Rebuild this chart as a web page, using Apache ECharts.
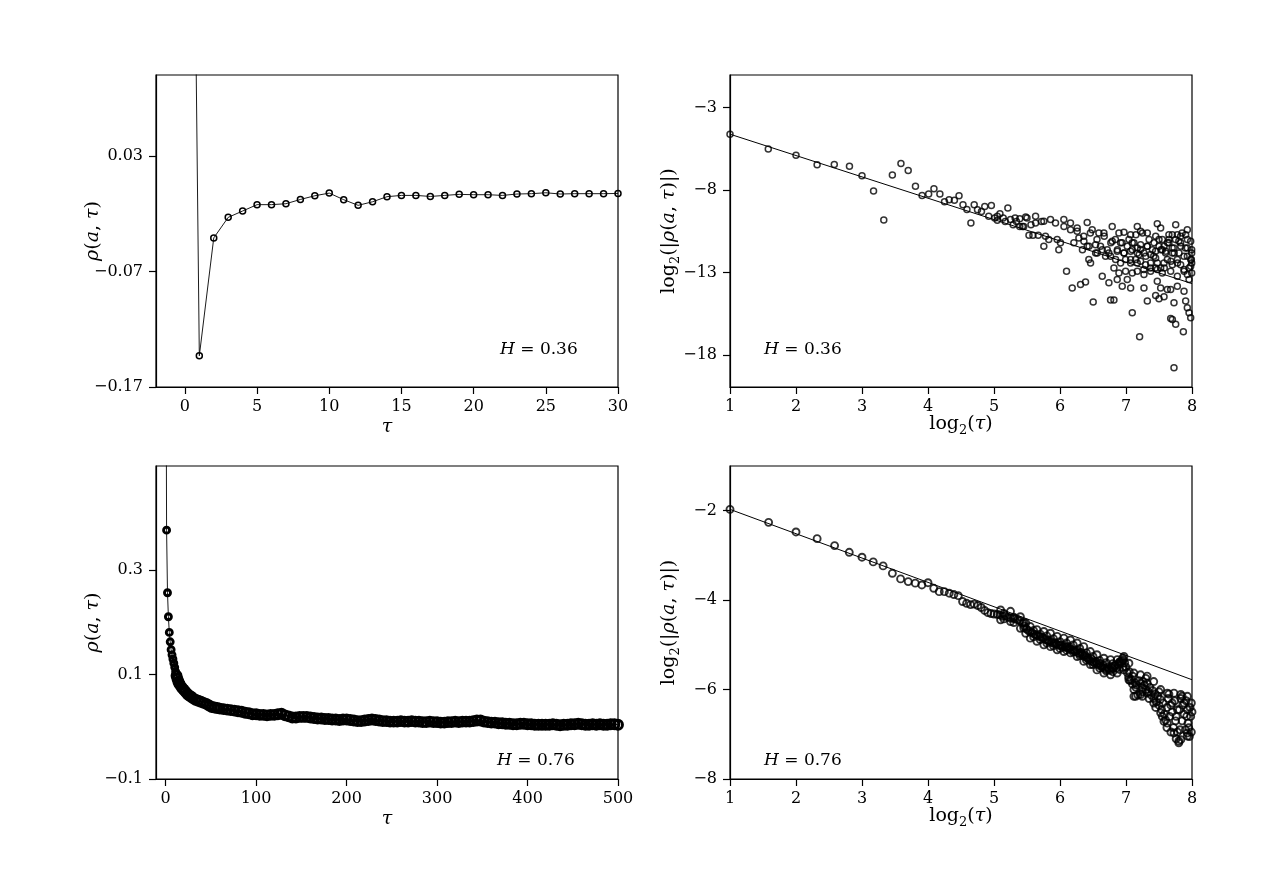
<!DOCTYPE html>
<html>
<head>
<meta charset="UTF-8">
<title>Autocorrelation of fGn</title>
<script src="https://cdn.jsdelivr.net/npm/echarts@6/dist/echarts.min.js"></script>
<style>
html, body { margin: 0; padding: 0; background: #fff; }
#chart { width: 1265px; height: 876px; }
</style>
</head>
<body>
<div id="chart"></div>
<script>
// top-left: rho(a, tau) for H = 0.36
const tlTau = [0, 1, 2, 3, 4, 5, 6, 7, 8, 9, 10, 11, 12, 13, 14, 15, 16, 17, 18, 19, 20, 21, 22, 23, 24, 25, 26, 27, 28, 29, 30];
const tlRho = [1.0, -0.143, -0.041, -0.0232, -0.0177, -0.0122, -0.0122, -0.0114, -0.0077, -0.0045, -0.0022,
  -0.0079, -0.0128, -0.0097, -0.0053, -0.0042, -0.0042, -0.0051, -0.0042, -0.0033, -0.0036,
  -0.0036, -0.0042, -0.0030, -0.0027, -0.0019, -0.0030, -0.0027, -0.0027, -0.0027, -0.0025];

const trLogTau = [1.0, 1.58, 2.0, 2.32, 2.58, 2.81, 3.0, 3.175, 3.33, 3.46, 3.59, 3.70, 3.81, 3.91, 4.01, 4.09, 4.18, 4.25, 4.32, 4.40,
  4.47, 4.53, 4.59, 4.65, 4.70, 4.75, 4.81, 4.86, 4.92, 4.96, 5.01, 5.05, 5.09, 5.14, 5.21, 5.25, 5.29, 5.34, 5.39, 5.43,
  5.48, 5.53, 5.56, 5.59, 5.63, 5.67, 5.72, 5.05, 5.17, 5.32, 5.45, 5.50, 5.39, 5.63,
  5.755, 5.856, 5.932, 6.058, 6.159, 6.260, 6.412, 6.488, 6.589, 6.665, 6.791, 6.893, 6.969, 7.070, 7.171, 7.221, 7.323, 7.474, 7.525, 7.651, 7.753, 7.828, 7.904,
  5.780, 5.830, 5.957, 6.007, 5.755, 5.982, 6.210, 6.286, 6.362, 6.412, 6.539, 6.614, 6.716, 6.791, 6.918, 7.019, 7.095, 7.171, 7.221, 7.323, 7.424, 7.500, 7.576, 7.651, 7.727, 7.828, 7.929, 7.995,
  6.437, 6.463, 6.564, 6.690, 6.766, 6.842, 6.918, 6.994, 7.070, 7.146, 7.221, 7.297, 7.373, 7.449, 7.525, 7.576, 7.626, 7.702, 7.778, 7.879, 7.955,
  6.817, 6.893, 6.994, 7.095, 7.171, 7.272, 7.373, 7.474, 7.550, 7.778, 7.929,
  6.099, 6.640, 6.185, 6.311, 6.387, 6.741, 6.867, 6.943, 7.019, 7.070, 7.272, 7.474, 7.525, 7.626, 7.677, 7.778, 7.879, 7.449,
  6.503, 6.766, 6.817, 7.095, 7.323, 7.500, 7.576, 7.727, 7.904, 7.929, 7.955, 7.980, 7.677, 7.702, 7.753, 7.869, 7.206, 7.727,
  7.601, 7.702, 7.803, 7.879, 7.980, 7.677, 7.828, 7.980, 7.995, 7.929, 7.778, 7.702, 7.550, 7.449, 7.373, 7.449, 7.272, 7.171, 7.070, 6.969, 6.867, 7.955, 7.995,
  7.12, 7.22, 7.32, 7.42, 7.53, 7.63, 7.73, 7.83, 7.93, 7.98, 7.88, 7.78, 7.68, 7.58, 7.475, 7.37, 7.27, 7.17, 7.07, 6.97,
  6.87, 6.77, 6.67, 6.56, 6.46, 6.36, 6.26, 6.16, 6.06, 7.93, 7.85, 7.75, 7.65, 7.55, 7.45, 7.35, 7.25, 7.15, 7.045, 6.94,
  6.84, 6.74, 6.64, 6.54, 6.44, 6.34, 7.995, 7.99, 7.90, 7.80, 7.70, 7.60, 7.50, 7.40, 7.30, 7.20, 7.095];
const trLogRho = [-4.61, -5.5, -5.88, -6.47, -6.45, -6.55, -7.13, -8.06, -9.81, -7.09, -6.39, -6.81, -7.76, -8.32, -8.24, -7.92, -8.24, -8.71, -8.58, -8.62,
  -8.34, -8.89, -9.17, -10.0, -8.89, -9.19, -9.29, -8.99, -9.59, -8.93, -9.69, -9.83, -9.43, -9.69, -9.09, -9.79, -10.1, -9.9, -9.73, -10.2,
  -9.63, -10.74, -10.1, -10.74, -9.59, -10.74, -9.9, -9.59, -9.9, -9.69, -10.2, -9.69, -10.2, -10.0,
  -9.89, -9.79, -9.99, -9.79, -9.99, -10.30, -9.96, -10.40, -10.60, -10.60, -10.20, -10.60, -10.56, -10.70, -10.20, -10.50, -10.60, -10.04, -10.30, -11.00, -10.10, -10.80, -10.70,
  -10.80, -11.00, -11.00, -11.20, -11.41, -11.61, -11.20, -10.90, -11.10, -11.41, -11.31, -11.41, -11.61, -11.10, -11.20, -11.41, -11.20, -11.51, -11.31, -11.41, -11.20, -11.00, -11.41, -11.20, -11.51, -11.20, -11.51, -11.81,
  -12.21, -12.42, -11.81, -12.01, -12.01, -12.21, -12.42, -12.21, -12.42, -12.21, -12.31, -12.52, -12.42, -12.72, -12.72, -12.42, -12.21, -12.52, -12.21, -12.82, -12.72,
  -12.72, -13.02, -12.92, -13.02, -12.92, -13.12, -12.92, -12.82, -13.02, -13.22, -13.12,
  -12.92, -13.22, -13.93, -13.73, -13.58, -13.62, -13.42, -13.83, -13.42, -13.93, -13.93, -13.52, -13.93, -14.03, -14.03, -13.83, -14.13, -14.39,
  -14.79, -14.67, -14.67, -15.44, -14.73, -14.59, -14.47, -14.83, -14.73, -15.14, -15.44, -15.74, -15.78, -15.84, -16.14, -16.59, -16.89, -18.77,
  -11.71, -11.81, -11.81, -12.01, -12.21, -12.92, -12.52, -11.10, -12.42, -10.40, -10.70, -10.70, -11.61, -11.71, -11.91, -12.11, -11.81, -11.81, -11.71, -11.81, -11.71, -13.42, -13.02,
  -11.2, -11.6, -11.41, -12.01, -11.61, -11.2, -11.81, -11.41, -12.01, -12.62, -12.92, -12.42, -12.31, -12.72, -12.42, -12.72, -12.82, -12.42, -12.21, -11.81,
  -11.61, -11.2, -10.8, -11.0, -10.6, -10.8, -10.5, -10.4, -10.2, -11.0, -10.6, -11.0, -10.7, -11.0, -10.8, -11.0, -10.6, -10.7, -11.0, -11.2,
  -11.0, -11.81, -11.61, -11.81, -11.41, -11.61, -11.61, -12.21, -11.51, -11.1, -11.51, -11.81, -11.41, -11.61, -12.01, -11.91, -11.61];
const trFitX = [1, 8];
const trFitY = [-4.61, -13.67];

// bottom-left: rho(a, tau) for H = 0.76
const blTau = [0, 1, 2, 3, 4, 5, 6, 7, 8, 9, 10, 11, 12, 13, 14, 15, 16, 18, 20, 22, 24, 26, 28, 30, 33, 36, 39, 42, 45, 48,
  51, 54, 57, 60, 64, 68, 72, 76, 80, 84, 88, 92, 96, 100, 104, 108, 112, 116, 120, 124, 128, 132, 136, 140, 144, 148,
  152, 156, 160, 164, 168, 172, 176, 180, 184, 188, 192, 196, 200, 204, 208, 212, 216, 220, 224, 228, 232, 236, 240,
  244, 248, 252, 256, 260, 264, 268, 272, 276, 280, 284, 288, 292, 296, 300, 304, 308, 312, 316, 320, 324, 328, 332,
  336, 340, 344, 348, 352, 356, 360, 364, 368, 372, 376, 380, 384, 388, 392, 396, 400, 404, 408, 412, 416, 420, 424,
  428, 432, 436, 440, 444, 448, 452, 456, 460, 464, 468, 472, 476, 480, 484, 488, 492, 496, 500];
const blRho = [1.0, 0.377, 0.257, 0.211, 0.181, 0.163, 0.148, 0.138, 0.130, 0.122, 0.114, 0.106, 0.098, 0.092, 0.087, 0.083, 0.080,
  0.075, 0.071, 0.067, 0.063, 0.060, 0.058, 0.055, 0.052, 0.050, 0.048, 0.046, 0.044, 0.041,
  0.038, 0.037, 0.036, 0.035, 0.034, 0.033, 0.032, 0.031, 0.030, 0.029, 0.027, 0.026, 0.024, 0.024, 0.023, 0.023, 0.022,
  0.023, 0.023, 0.024, 0.025, 0.022, 0.020, 0.018, 0.018, 0.019, 0.019, 0.019, 0.018, 0.017, 0.016, 0.016, 0.015,
  0.015, 0.014, 0.014, 0.013, 0.014, 0.014, 0.013, 0.012, 0.011, 0.011, 0.012, 0.013, 0.014, 0.013, 0.012, 0.011,
  0.011, 0.010, 0.010, 0.010, 0.011, 0.010, 0.010, 0.011, 0.010, 0.010, 0.009, 0.009, 0.010, 0.009, 0.009, 0.008,
  0.008, 0.009, 0.009, 0.010, 0.009, 0.010, 0.010, 0.010, 0.011, 0.012, 0.012, 0.010, 0.009, 0.008, 0.008, 0.007,
  0.007, 0.006, 0.006, 0.005, 0.005, 0.006, 0.006, 0.005, 0.005, 0.004, 0.004, 0.004, 0.004, 0.004, 0.005, 0.004,
  0.003, 0.004, 0.004, 0.005, 0.005, 0.006, 0.005, 0.004, 0.004, 0.005, 0.004, 0.005, 0.004, 0.004, 0.005, 0.005, 0.004];

// bottom-right: log2 rho against log2(tau), H = 0.76 (centre of band, its edges, then in-band points)
const brLogTau = [1.0, 1.585, 2.0, 2.32, 2.585, 2.807, 3.0, 3.17, 3.32, 3.46, 3.585, 3.70, 3.807, 3.907, 4.0, 4.087, 4.17, 4.248,
  4.322, 4.392, 4.459, 4.524, 4.585, 4.644, 4.70, 4.755, 4.807, 4.858, 4.907, 4.954, 5.0,
  5.05, 5.09, 5.13, 5.17, 5.21, 5.25, 5.29, 5.32, 5.36, 5.39, 5.43, 5.46, 5.49, 5.52, 5.55, 5.58, 5.61, 5.64, 5.67, 5.70,
  5.73, 5.75, 5.78, 5.81, 5.83, 5.86, 5.88, 5.91, 5.93, 5.95, 5.98, 6.0, 6.02, 6.04, 6.07, 6.09, 6.11, 6.13, 6.15, 6.17,
  6.2, 6.22, 6.24, 6.26, 6.28, 6.30, 6.32, 6.34, 6.36, 6.38, 6.40, 6.42, 6.44, 6.46, 6.48, 6.50, 6.52, 6.54, 6.56, 6.58,
  6.60, 6.62, 6.64, 6.66, 6.68, 6.70, 6.72, 6.74, 6.76, 6.78, 6.80, 6.82, 6.84, 6.86, 6.88, 6.90, 6.92, 6.94, 6.96, 6.98,
  7.0, 7.02, 7.04, 7.06, 7.08, 7.10, 7.12, 7.14, 7.16, 7.18, 7.20, 7.22, 7.24, 7.26, 7.28, 7.30, 7.32, 7.34, 7.36, 7.38,
  7.40, 7.42, 7.44, 7.46, 7.48, 7.50, 7.52, 7.54, 7.56, 7.58, 7.60, 7.62, 7.64, 7.66, 7.68, 7.70, 7.72, 7.74, 7.76, 7.78,
  7.80, 7.81, 7.83, 7.85, 7.86, 7.88, 7.90, 7.91, 7.93, 7.94, 7.96, 7.97, 7.98, 8.0,
  5.10, 5.25, 5.40, 5.48, 5.55, 5.65, 5.755, 5.856, 5.957, 6.058, 6.159, 6.26, 6.36, 6.46, 6.56, 6.665, 6.766, 6.867, 6.969,
  7.044, 7.12, 7.22, 7.32, 7.42, 7.525, 7.626, 7.727, 7.83, 7.93,
  5.10, 5.25, 5.40, 5.48, 5.55, 5.65, 5.755, 5.856, 5.957, 6.058, 6.159, 6.26, 6.36, 6.46, 6.56, 6.665, 6.766, 6.867, 6.969,
  7.044, 7.12, 7.22, 7.32, 7.42, 7.525, 7.626, 7.727, 7.83, 7.93,
  7.146, 7.247, 7.575, 7.80, 7.93,
  5.15, 5.30, 5.45, 5.60, 5.70, 5.80, 5.90, 6.0, 6.10, 6.20, 6.30, 6.40, 6.50, 6.60, 6.70, 6.80, 6.90, 6.95,
  5.15, 5.30, 5.45, 5.60, 5.70, 5.80, 5.90, 6.0, 6.10, 6.20, 6.30, 6.40, 6.50, 6.60, 6.70, 6.80, 6.90, 6.95,
  7.05, 7.10, 7.15, 7.25, 7.30, 7.35, 7.45, 7.50, 7.55, 7.62, 7.65, 7.70, 7.75, 7.78, 7.82, 7.85, 7.88, 7.92, 7.95, 7.99, 7.99, 7.76, 7.68];
const brLogRho = [-1.97, -2.26, -2.475, -2.625, -2.78, -2.93, -3.04, -3.145, -3.234, -3.40, -3.525, -3.585, -3.62, -3.66, -3.61, -3.735, -3.81, -3.81,
  -3.845, -3.875, -3.90, -4.03, -4.07, -4.10, -4.09, -4.12, -4.165, -4.23, -4.28, -4.30, -4.31,
  -4.32, -4.33, -4.36, -4.35, -4.38, -4.40, -4.41, -4.42, -4.44, -4.46, -4.52, -4.58, -4.64, -4.68, -4.71, -4.73, -4.76, -4.78, -4.80, -4.82,
  -4.83, -4.85, -4.88, -4.90, -4.92, -4.92, -4.95, -4.97, -4.96, -4.99, -5.01, -5.0, -5.02, -5.05, -5.03, -5.06, -5.04, -5.08, -5.06, -5.10,
  -5.12, -5.14, -5.15, -5.13, -5.18, -5.20, -5.17, -5.22, -5.25, -5.23, -5.28, -5.30, -5.33, -5.36, -5.32, -5.38, -5.40, -5.37, -5.42, -5.45,
  -5.41, -5.47, -5.50, -5.46, -5.52, -5.55, -5.50, -5.54, -5.57, -5.50, -5.53, -5.48, -5.46, -5.52, -5.44, -5.40, -5.38, -5.36, -5.34, -5.40,
  -5.50, -5.62, -5.72, -5.80, -5.78, -5.88, -6.15, -5.85, -5.90, -6.12, -5.80, -5.86, -5.95, -5.82, -5.90, -6.00, -5.86, -6.05, -5.95, -6.12,
  -6.02, -6.20, -6.10, -6.28, -6.15, -6.35, -6.22, -6.45, -6.30, -6.55, -6.68, -6.40, -6.20, -6.60, -6.35, -6.50, -6.85, -6.25, -6.60, -6.95,
  -7.15, -6.45, -6.20, -6.70, -6.35, -6.55, -6.90, -6.25, -6.45, -6.75, -7.05, -6.40, -6.60, -6.50,
  -4.22, -4.25, -4.37, -4.51, -4.59, -4.66, -4.70, -4.74, -4.81, -4.85, -4.89, -4.96, -5.04, -5.15, -5.22, -5.30, -5.33, -5.33, -5.26,
  -5.41, -5.63, -5.67, -5.70, -5.82, -6.0, -6.08, -6.08, -6.11, -6.15,
  -4.44, -4.48, -4.63, -4.74, -4.85, -4.92, -5.00, -5.04, -5.11, -5.15, -5.18, -5.26, -5.37, -5.44, -5.56, -5.63, -5.67, -5.63, -5.56,
  -5.78, -6.0, -6.11, -6.08, -6.30, -6.52, -6.75, -6.97, -7.12, -7.04,
  -6.15, -6.15, -6.71, -7.19, -6.97,
  -4.30, -4.38, -4.50, -4.68, -4.76, -4.80, -4.86, -4.93, -4.96, -5.00, -5.08, -5.18, -5.26, -5.35, -5.40, -5.42, -5.38, -5.30,
  -4.42, -4.50, -4.62, -4.82, -4.88, -4.96, -5.02, -5.08, -5.12, -5.16, -5.24, -5.34, -5.44, -5.52, -5.58, -5.60, -5.55, -5.50,
  -5.60, -5.70, -5.95, -6.05, -5.75, -6.20, -6.40, -6.05, -6.60, -6.85, -6.10, -6.30, -6.70, -6.45, -6.90, -6.15, -6.30, -6.60, -6.85, -6.30, -6.95, -7.10, -6.95];
const brFitX = [1, 8];
const brFitY = [-1.97, -5.78];

const zip = (xs, ys) => xs.map((x, i) => [x, ys[i]]);
const minus = v => String(v).replace('-', '\u2212');

const serif = '"DejaVu Serif", "Liberation Serif", serif';
const tickFont = { fontFamily: serif, fontSize: 16, color: '#000' };
const nameRich = {
  n: { fontFamily: serif, fontSize: 19, color: '#000', lineHeight: 26 },
  i: { fontFamily: serif, fontSize: 19, fontStyle: 'italic', color: '#000', lineHeight: 26 },
  s: { fontFamily: serif, fontSize: 13, color: '#000', verticalAlign: 'bottom', lineHeight: 14 }
};
const rhoName = '{i|ρ}{n|(}{i|a}{n|, }{i|τ}{n|)}';
const logRhoName = '{n|log}{s|2}{n|(|}{i|ρ}{n|(}{i|a}{n|, }{i|τ}{n|)|)}';
const logTauName = '{n|log}{s|2}{n|(}{i|τ}{n|)}';
const tauName = '{i|τ}';

const grids = [
  { left: 156, top: 75, width: 462, height: 312 },
  { left: 730, top: 75, width: 462, height: 312 },
  { left: 156, top: 466, width: 462, height: 313 },
  { left: 730, top: 466, width: 462, height: 313 }
].map(g => Object.assign(g, { show: true, borderColor: '#000', borderWidth: 1.2, backgroundColor: '#fff' }));

function xAxis(gi, min, max, ticks, name, gap) {
  return {
    type: 'value', gridIndex: gi, min: min, max: max,
    name: name, nameLocation: 'middle', nameGap: gap, nameMoveOverlap: false,
    nameTextStyle: { rich: nameRich },
    axisLine: { show: true, onZero: false, lineStyle: { color: '#000', width: 1.2 } },
    axisTick: { show: true, length: 7, lineStyle: { color: '#000', width: 1.2 }, customValues: ticks },
    axisLabel: Object.assign({ margin: 12, customValues: ticks, formatter: minus }, tickFont),
    splitLine: { show: false }
  };
}
function yAxis(gi, min, max, ticks, name, gap) {
  return {
    type: 'value', gridIndex: gi, min: min, max: max,
    name: name, nameLocation: 'middle', nameGap: gap, nameRotate: 90, nameMoveOverlap: false,
    nameTextStyle: { rich: nameRich },
    axisLine: { show: true, onZero: false, lineStyle: { color: '#000', width: 1.2 } },
    axisTick: { show: true, length: 7, lineStyle: { color: '#000', width: 1.2 }, customValues: ticks },
    axisLabel: Object.assign({ margin: 13, customValues: ticks, formatter: minus }, tickFont),
    splitLine: { show: false }
  };
}

const hollow = { color: 'rgba(0,0,0,0)', borderColor: '#000', borderWidth: 1.5 };

const chart = echarts.init(document.getElementById('chart'), null, { renderer: 'canvas' });
chart.setOption({
  animation: false,
  backgroundColor: '#fff',
  grid: grids,
  xAxis: [
    xAxis(0, -2, 30, [0, 5, 10, 15, 20, 25, 30], tauName, 27),
    xAxis(1, 1, 8, [1, 2, 3, 4, 5, 6, 7, 8], logTauName, 24),
    xAxis(2, -10.7, 500, [0, 100, 200, 300, 400, 500], tauName, 27),
    xAxis(3, 1, 8, [1, 2, 3, 4, 5, 6, 7, 8], logTauName, 24)
  ],
  yAxis: [
    yAxis(0, -0.17, 0.1, [-0.17, -0.07, 0.03], rhoName, 50),
    yAxis(1, -19.94, -1.02, [-18, -13, -8, -3], logRhoName, 48),
    yAxis(2, -0.1, 0.5, [-0.1, 0.1, 0.3], rhoName, 50),
    yAxis(3, -8, -1, [-8, -6, -4, -2], logRhoName, 48)
  ],
  series: [
    {
      type: 'line', xAxisIndex: 0, yAxisIndex: 0, data: zip(tlTau, tlRho),
      symbol: 'circle', symbolSize: 6, itemStyle: hollow,
      lineStyle: { color: '#000', width: 0.9 }, clip: true
    },
    {
      type: 'scatter', xAxisIndex: 1, yAxisIndex: 1, data: zip(trLogTau, trLogRho),
      symbol: 'circle', symbolSize: 6, itemStyle: hollow, clip: true
    },
    {
      type: 'line', xAxisIndex: 1, yAxisIndex: 1, data: zip(trFitX, trFitY),
      showSymbol: false, lineStyle: { color: '#000', width: 1 }
    },
    {
      type: 'line', xAxisIndex: 2, yAxisIndex: 2, data: zip(blTau, blRho),
      symbol: 'circle', symbolSize: v => (v[0] >= 12 ? 9 : 6),
      itemStyle: { color: 'rgba(0,0,0,0)', borderColor: '#000', borderWidth: 2.9 },
      lineStyle: { color: '#000', width: 0.9 }, clip: true
    },
    {
      type: 'scatter', xAxisIndex: 3, yAxisIndex: 3, data: zip(brLogTau, brLogRho),
      symbol: 'circle', symbolSize: 7, itemStyle: { color: 'rgba(0,0,0,0)', borderColor: '#000', borderWidth: 1.9 }, clip: true
    },
    {
      type: 'line', xAxisIndex: 3, yAxisIndex: 3, data: zip(brFitX, brFitY),
      showSymbol: false, lineStyle: { color: '#000', width: 1 }
    }
  ],
  graphic: [
    { x: 500, y: 341, text: '{i|H} = 0.36' },
    { x: 764, y: 341, text: '{i|H} = 0.36' },
    { x: 497, y: 752, text: '{i|H} = 0.76' },
    { x: 764, y: 752, text: '{i|H} = 0.76' }
  ].map(t => ({
    type: 'text', x: t.x, y: t.y, z: 100,
    style: {
      text: t.text, fill: '#000', fontFamily: serif, fontSize: 17,
      rich: { i: { fontFamily: serif, fontSize: 17, fontStyle: 'italic', fill: '#000' } }
    }
  }))
});
window.addEventListener('resize', () => chart.resize());
</script>
</body>
</html>
